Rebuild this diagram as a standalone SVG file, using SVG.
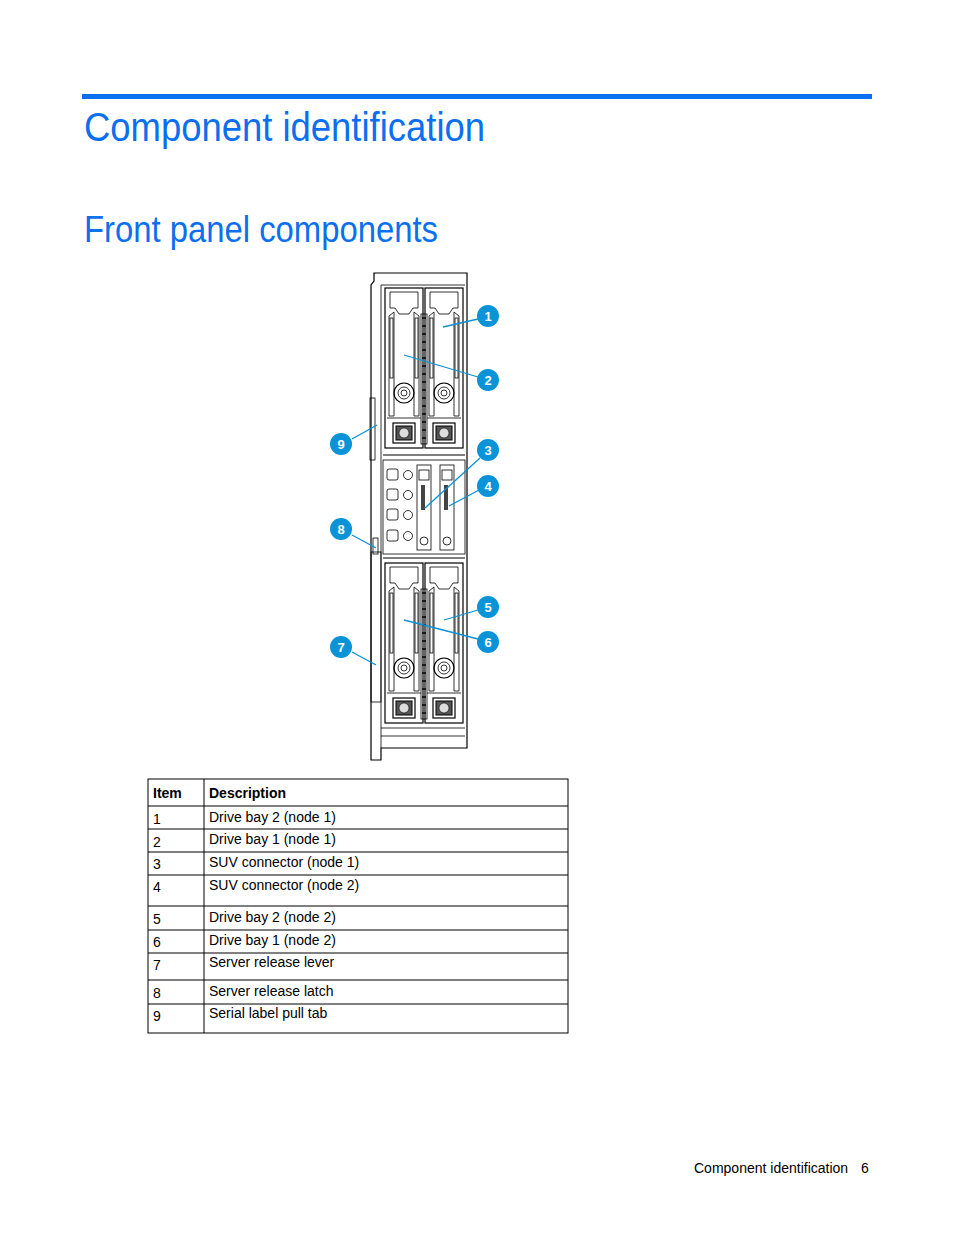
<svg xmlns="http://www.w3.org/2000/svg" xmlns:xlink="http://www.w3.org/1999/xlink" width="954" height="1235" viewBox="0 0 954 1235">
<style>
.h{font-family:"Liberation Sans",Arial,sans-serif;fill:#0b6ff0}
.t{font-family:"Liberation Sans",Arial,sans-serif;font-size:14px;fill:#000}
.b{font-weight:bold}
.ln{stroke:#000;stroke-width:1.2;fill:none}
.thin{stroke:#000;stroke-width:0.8;fill:none}
.cn circle{fill:#0a93d6}
.cn text{font-family:"Liberation Sans",Arial,sans-serif;font-size:13px;font-weight:bold;fill:#fff;text-anchor:middle}
.ld{stroke:#0a93d6;stroke-width:1.3}
</style>
<defs>
<g id="drive">
<rect x="0" y="0" width="38" height="160" class="ln" fill="#fff"/>
<path d="M5 4 H33 V20 H28 L24 26 H14 L10 20 H5 Z" class="thin"/>
<path d="M4 28 L9 24 V128 H4 Z" class="thin"/>
<path d="M34 28 L29 24 V128 H34 Z" class="thin"/>
<rect x="5" y="30" width="3" height="60" class="thin"/>
<rect x="30" y="30" width="3" height="60" class="thin"/>
<circle cx="19" cy="105" r="10" class="ln"/>
<circle cx="19" cy="105" r="6" class="thin"/>
<circle cx="19" cy="105" r="3" class="thin"/>
<line x1="2" y1="130" x2="36" y2="130" class="thin"/>
<rect x="8" y="135" width="22" height="20" class="ln"/>
<rect x="11" y="138" width="16" height="14" fill="#555" stroke="#000"/>
<circle cx="19" cy="145" r="5" fill="#ddd" stroke="#000" stroke-width="0.6"/>
</g>
<g id="bay">
<use xlink:href="#drive" x="0" y="0"/>
<use xlink:href="#drive" x="40" y="0"/>
<rect x="36" y="26" width="6" height="130" class="thin" fill="#fff"/>
<path d="M37 30 h4 M37 38 h4 M37 46 h4 M37 54 h4 M37 62 h4 M37 70 h4 M37 78 h4 M37 86 h4 M37 94 h4 M37 102 h4 M37 110 h4 M37 118 h4 M37 126 h4 M37 134 h4 M37 142 h4 M37 150 h4" stroke="#000" stroke-width="1.5"/>
</g>
</defs>
<rect x="82" y="94" width="790" height="5" fill="#0b6ff0"/>
<text class="h" x="84" y="141" font-size="40" textLength="401" lengthAdjust="spacingAndGlyphs">Component identification</text>
<text class="h" x="84" y="242" font-size="36" textLength="354" lengthAdjust="spacingAndGlyphs">Front panel components</text>
<g id="server">
<path d="M374 273 H467 V748 H381 V760 H371 V285 L374 281 Z" class="ln" fill="#fff"/>
<line x1="381" y1="285" x2="381" y2="748" class="thin"/>
<line x1="381" y1="285" x2="465" y2="285" class="thin"/>
<rect x="370" y="398" width="5" height="62" class="thin"/>
<rect x="373" y="538" width="5" height="16" class="thin"/>
<rect x="371" y="552" width="10" height="150" class="thin"/>
<line x1="381" y1="728" x2="465" y2="728" class="thin"/>
<line x1="381" y1="736" x2="465" y2="736" class="thin"/>
<use xlink:href="#bay" x="385" y="288"/>
<line x1="383" y1="455" x2="465" y2="455" class="ln"/>
<g id="suv">
<rect x="383" y="460" width="82" height="94" class="thin"/>
<rect x="387" y="469" width="11" height="11" rx="2" class="thin"/>
<rect x="387" y="489" width="11" height="11" rx="2" class="thin"/>
<rect x="387" y="509" width="11" height="11" rx="2" class="thin"/>
<rect x="387" y="530" width="11" height="11" rx="2" class="thin"/>
<circle cx="408" cy="475" r="4.5" class="thin"/>
<circle cx="408" cy="495" r="4.5" class="thin"/>
<circle cx="408" cy="515" r="4.5" class="thin"/>
<circle cx="408" cy="536" r="4.5" class="thin"/>
<rect x="417" y="465" width="14" height="85" class="thin"/>
<rect x="440" y="465" width="14" height="85" class="thin"/>
<rect x="419" y="470" width="10" height="10" class="thin"/>
<rect x="442" y="470" width="10" height="10" class="thin"/>
<circle cx="424" cy="541" r="4" class="thin"/>
<circle cx="447" cy="541" r="4" class="thin"/>
<rect x="421" y="485" width="4" height="25" fill="#444"/>
<rect x="444" y="485" width="4" height="25" fill="#444"/>
</g>
<line x1="383" y1="558" x2="465" y2="558" class="ln"/>
<use xlink:href="#bay" x="385" y="563"/>
</g>
<g id="connectors">
<line class="ld" x1="443" y1="327" x2="478" y2="319"/>
<line class="ld" x1="404" y1="355" x2="478" y2="377"/>
<line class="ld" x1="425" y1="508" x2="480" y2="458"/>
<line class="ld" x1="449" y1="506" x2="479" y2="490"/>
<line class="ld" x1="444" y1="620" x2="478" y2="610"/>
<line class="ld" x1="404" y1="620" x2="478" y2="639"/>
<line class="ld" x1="352" y1="439" x2="377" y2="425"/>
<line class="ld" x1="352" y1="535" x2="376" y2="548"/>
<line class="ld" x1="352" y1="652" x2="376" y2="665"/>
</g>
<g id="c1" class="cn"><circle cx="488" cy="316" r="11"/><text x="488" y="321">1</text></g>
<g id="c2" class="cn"><circle cx="488" cy="380" r="11"/><text x="488" y="385">2</text></g>
<g id="c3" class="cn"><circle cx="488" cy="450" r="11"/><text x="488" y="455">3</text></g>
<g id="c4" class="cn"><circle cx="488" cy="486" r="11"/><text x="488" y="491">4</text></g>
<g id="c5" class="cn"><circle cx="488" cy="607" r="11"/><text x="488" y="612">5</text></g>
<g id="c6" class="cn"><circle cx="488" cy="642" r="11"/><text x="488" y="647">6</text></g>
<g id="c9" class="cn"><circle cx="341" cy="444" r="11"/><text x="341" y="449">9</text></g>
<g id="c8" class="cn"><circle cx="341" cy="529" r="11"/><text x="341" y="534">8</text></g>
<g id="c7" class="cn"><circle cx="341" cy="647" r="11"/><text x="341" y="652">7</text></g>
<g id="table">
<rect x="148" y="779" width="420" height="254" fill="none" stroke="#000"/>
<line x1="204" y1="779" x2="204" y2="1033" stroke="#000"/>
<g stroke="#000">
<line x1="148" y1="806" x2="568" y2="806"/>
<line x1="148" y1="829" x2="568" y2="829"/>
<line x1="148" y1="852" x2="568" y2="852"/>
<line x1="148" y1="875" x2="568" y2="875"/>
<line x1="148" y1="906" x2="568" y2="906"/>
<line x1="148" y1="930" x2="568" y2="930"/>
<line x1="148" y1="953" x2="568" y2="953"/>
<line x1="148" y1="980" x2="568" y2="980"/>
<line x1="148" y1="1004" x2="568" y2="1004"/>
</g>
<text class="t b" x="153" y="798">Item</text>
<text class="t b" x="209" y="798">Description</text>
<text class="t" x="153" y="824">1</text><text class="t" x="209" y="822">Drive bay 2 (node 1)</text>
<text class="t" x="153" y="847">2</text><text class="t" x="209" y="844">Drive bay 1 (node 1)</text>
<text class="t" x="153" y="869">3</text><text class="t" x="209" y="867">SUV connector (node 1)</text>
<text class="t" x="153" y="892">4</text><text class="t" x="209" y="890">SUV connector (node 2)</text>
<text class="t" x="153" y="924">5</text><text class="t" x="209" y="922">Drive bay 2 (node 2)</text>
<text class="t" x="153" y="947">6</text><text class="t" x="209" y="945">Drive bay 1 (node 2)</text>
<text class="t" x="153" y="970">7</text><text class="t" x="209" y="967">Server release lever</text>
<text class="t" x="153" y="998">8</text><text class="t" x="209" y="996">Server release latch</text>
<text class="t" x="153" y="1021">9</text><text class="t" x="209" y="1018">Serial label pull tab</text>
</g>
<text class="t" x="694" y="1173">Component identification</text>
<text class="t" x="861" y="1173">6</text>
</svg>
